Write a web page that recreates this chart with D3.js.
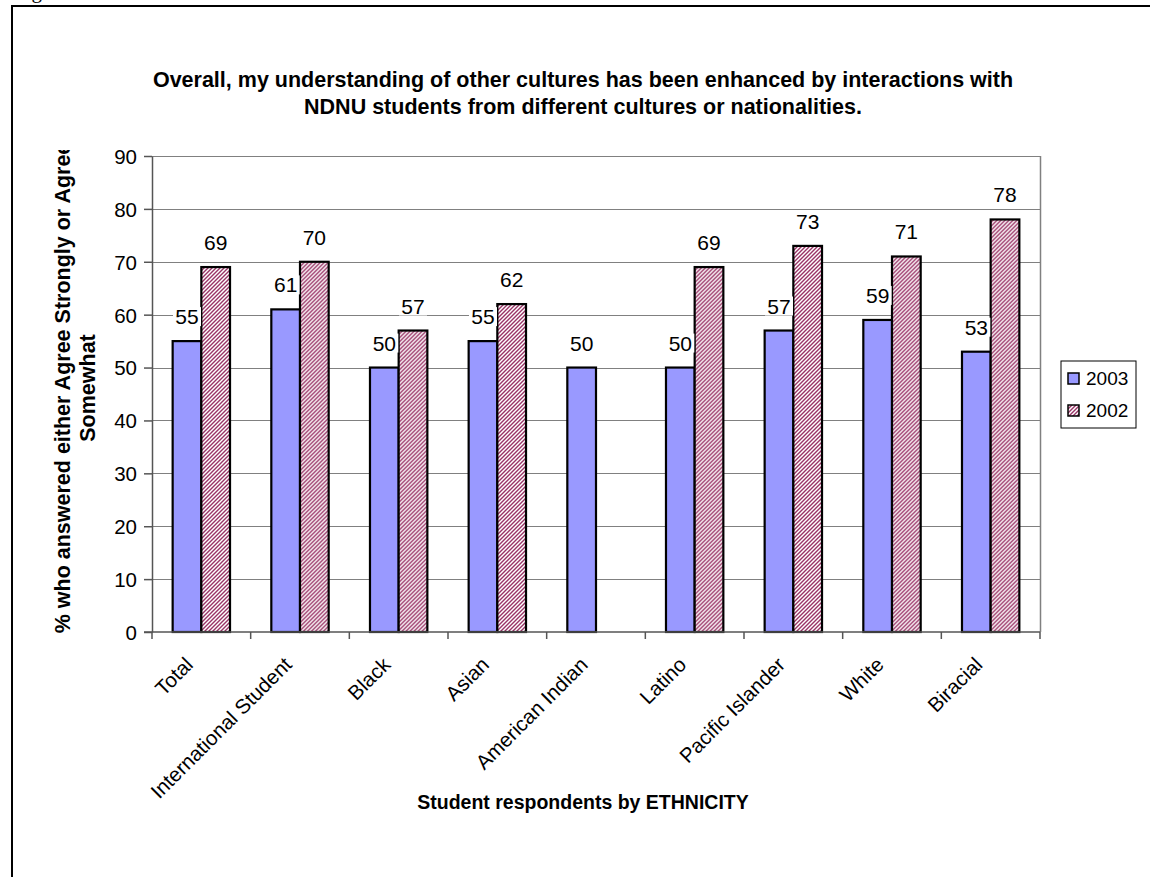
<!DOCTYPE html>
<html>
<head>
<meta charset="utf-8">
<script src="https://cdn.jsdelivr.net/npm/d3@7"></script>
<style>
  html, body { margin: 0; padding: 0; background: #fff; }
  svg { display: block; }
  text { font-family: "Liberation Sans", Arial, sans-serif; fill: #000; }
</style>
</head>
<body>
<svg id="chart" width="1150" height="877"></svg>
<script>
// Survey results by ethnicity, 2003 vs 2002
const categories = ["Total", "International Student", "Black", "Asian", "American Indian",
                    "Latino", "Pacific Islander", "White", "Biracial"];
const seriesNames = ["2003", "2002"];
const values2003 = [55, 61, 50, 55, 50, 50, 57, 59, 53];
const values2002 = [69, 70, 57, 62, null, 69, 73, 71, 78];
const yTicks = [0, 10, 20, 30, 40, 50, 60, 70, 80, 90];

const titleLines = [
  "Overall, my understanding of other cultures has been enhanced by interactions with",
  "NDNU students from different cultures or nationalities."
];
const yTitleLines = ["% who answered either Agree Strongly or Agree", "Somewhat"];
const xTitle = "Student respondents by ETHNICITY";

const svg = d3.select("#chart");
const W = 1150, H = 877;
const plot = { left: 152, right: 1040, top: 156, bottom: 632 };

svg.append("rect").attr("width", W).attr("height", H).attr("fill", "#fff");

// hatch fill for the 2002 series
const defs = svg.append("defs");
const pat = defs.append("pattern")
  .attr("id", "hatch")
  .attr("patternUnits", "userSpaceOnUse")
  .attr("width", 4).attr("height", 4);
pat.append("rect").attr("width", 4).attr("height", 4).attr("fill", "#fff");
pat.append("path")
  .attr("d", "M-1,1 l2,-2 M0,4 l4,-4 M3,5 l2,-2")
  .attr("stroke", "#993366").attr("stroke-width", 1.4);

const fills = { "2003": "#9999FF", "2002": "url(#hatch)" };

// document frame
svg.append("rect")
  .attr("x", 12).attr("y", 6).attr("width", W + 20).attr("height", H + 20)
  .attr("fill", "none").attr("stroke", "#000").attr("stroke-width", 2);
svg.append("text").attr("x", 14).attr("y", -2)
  .style("font-family", "Liberation Serif, Times New Roman, serif")
  .style("font-size", "21px").text("Figure");

// scales
const x0 = d3.scaleBand().domain(categories).range([plot.left, plot.right]).padding(0);
const x1 = d3.scaleBand().domain(seriesNames).range([0, x0.bandwidth()])
  .paddingInner(0).paddingOuter(0.72);
const y = d3.scaleLinear().domain([0, 90]).range([plot.bottom, plot.top]);

// gridlines
svg.append("g").selectAll("line")
  .data(yTicks.filter(v => v > 0))
  .join("line")
  .attr("x1", plot.left).attr("x2", plot.right)
  .attr("y1", d => Math.round(y(d)) + 0.5).attr("y2", d => Math.round(y(d)) + 0.5)
  .attr("stroke", "#808080").attr("stroke-width", 1.2);
// right border of plot area
svg.append("line")
  .attr("x1", plot.right + 0.5).attr("x2", plot.right + 0.5)
  .attr("y1", plot.top).attr("y2", plot.bottom)
  .attr("stroke", "#808080").attr("stroke-width", 1.5);

// y axis
const yAxis = svg.append("g")
  .attr("transform", `translate(${plot.left},0)`)
  .call(d3.axisLeft(y).tickValues(yTicks).tickSize(8).tickSizeOuter(0).tickPadding(7));
yAxis.select(".domain").attr("stroke", "#555").attr("stroke-width", 1.5);
yAxis.selectAll(".tick line").attr("stroke", "#555").attr("stroke-width", 1.5);
yAxis.selectAll(".tick text")
  .style("font-family", "Liberation Sans, Arial, sans-serif")
  .style("font-size", "20.5px").attr("dy", "0.36em");

// bars
const rows = categories.map((c, i) => ({
  cat: c,
  vals: [{ s: "2003", v: values2003[i] }, { s: "2002", v: values2002[i] }]
}));

const groups = svg.append("g").selectAll("g")
  .data(rows).join("g")
  .attr("transform", d => `translate(${x0(d.cat)},0)`);

groups.selectAll("rect")
  .data(d => d.vals.filter(e => e.v != null))
  .join("rect")
  .attr("x", d => x1(d.s))
  .attr("y", d => y(d.v))
  .attr("width", x1.bandwidth())
  .attr("height", d => y(0) - y(d.v))
  .attr("fill", d => fills[d.s])
  .attr("stroke", "#000").attr("stroke-width", 2.2);

// value labels with opaque backgrounds
const labels = groups.selectAll("g.lbl")
  .data(d => d.vals.filter(e => e.v != null))
  .join("g").attr("class", "lbl")
  .attr("transform", d => `translate(${x1(d.s) + x1.bandwidth() / 2},${y(d.v) - 17})`);
labels.append("rect")
  .attr("x", -14).attr("y", -17).attr("width", 28).attr("height", 19)
  .attr("fill", "#fff");
labels.append("text")
  .attr("text-anchor", "middle")
  .style("font-size", "21px")
  .text(d => d.v);

// x axis baseline and category ticks (between categories)
const xAxis = svg.append("g").attr("transform", `translate(0,${plot.bottom})`);
xAxis.append("line")
  .attr("x1", plot.left - 8).attr("x2", plot.right)
  .attr("y1", 0).attr("y2", 0)
  .attr("stroke", "#555").attr("stroke-width", 1.5);
xAxis.selectAll("line.tk")
  .data(categories.map(c => x0(c)).concat([x0.range()[1]]))
  .join("line").attr("class", "tk")
  .attr("x1", d => d).attr("x2", d => d)
  .attr("y1", 0).attr("y2", 7)
  .attr("stroke", "#555").attr("stroke-width", 1.5);
xAxis.selectAll("text.cat")
  .data(categories)
  .join("text").attr("class", "cat")
  .attr("text-anchor", "end")
  .attr("transform", d => `translate(${x0(d) + x0.bandwidth() / 2 - 7},34) rotate(-45)`)
  .style("font-size", "20.5px")
  .text(d => d);

// chart title
svg.append("g").selectAll("text")
  .data(titleLines).join("text")
  .attr("x", 583).attr("y", (d, i) => 87 + i * 27)
  .attr("text-anchor", "middle")
  .style("font-weight", "bold").style("font-size", "21.5px")
  .text(d => d);

// x axis title
svg.append("text")
  .attr("x", 583).attr("y", 809)
  .attr("text-anchor", "middle")
  .style("font-weight", "bold").style("font-size", "19.5px")
  .text(xTitle);

// y axis title (clipped at the top)
defs.append("clipPath").attr("id", "ytclip")
  .append("rect").attr("x", 0).attr("y", 150).attr("width", 120).attr("height", 600);
svg.append("g").attr("clip-path", "url(#ytclip)")
  .selectAll("text")
  .data(yTitleLines).join("text")
  .attr("transform", (d, i) => `translate(${70 + i * 25},388) rotate(-90)`)
  .attr("text-anchor", "middle")
  .style("font-weight", "bold").style("font-size", "21.5px")
  .text(d => d);

// legend
const lg = svg.append("g").attr("transform", "translate(1061,361)");
lg.append("rect").attr("width", 75).attr("height", 67)
  .attr("fill", "#fff").attr("stroke", "#000").attr("stroke-width", 1);
const li = lg.selectAll("g").data(seriesNames).join("g")
  .attr("transform", (d, i) => `translate(7,${12 + i * 32})`);
li.append("rect").attr("width", 11).attr("height", 11)
  .attr("fill", d => fills[d]).attr("stroke", "#000").attr("stroke-width", 1.5);
li.append("text").attr("x", 18).attr("y", 11.5)
  .style("font-size", "19px").text(d => d);
</script>
</body>
</html>
